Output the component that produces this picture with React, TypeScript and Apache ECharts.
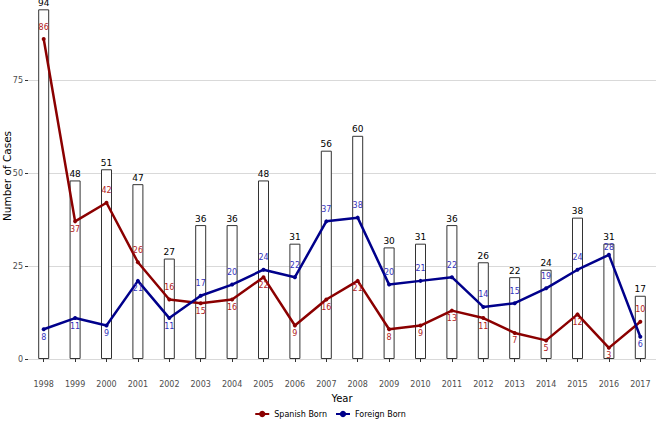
import React, { useEffect, useRef } from "react";
import * as echarts from "echarts";

const years = ["1998","1999","2000","2001","2002","2003","2004","2005","2006","2007","2008","2009","2010","2011","2012","2013","2014","2015","2016","2017"];
const totalCases = [94,48,51,47,27,36,36,48,31,56,60,30,31,36,26,22,24,38,31,17];
const spanishBorn = [86,37,42,26,16,15,16,22,9,16,21,8,9,13,11,7,5,12,3,10];
const foreignBorn = [8,11,9,21,11,17,20,24,22,37,38,20,21,22,14,15,19,24,28,6];

const FONT = "DejaVu Sans";

function labelPos(i: number, isSpanish: boolean) {
  const aboveSpanish = [0, 2, 3, 4, 19];
  const belowForeign = [0, 1, 2, 3, 4, 19];
  if (isSpanish) return aboveSpanish.includes(i) ? "top" : "bottom";
  return belowForeign.includes(i) ? "bottom" : "top";
}

export default function App() {
  const ref = useRef<HTMLDivElement>(null);
  useEffect(() => {
    if (!ref.current) return;
    const chart = echarts.init(ref.current, null, { renderer: "svg" });
    const mkData = (vals: number[], sp: boolean, color: string) =>
      vals.map((v, i) => {
        const pos = labelPos(i, sp);
        const nearTop = totalCases[i] - v < 5;
        return {
          value: v,
          label: {
            show: true,
            position: pos,
            distance: pos === "top" ? (nearTop ? 1 : 6) : 2,
            color,
            fontSize: 8,
            fontFamily: FONT,
          },
        };
      });
    chart.setOption({
      animation: false,
      textStyle: { fontFamily: FONT },
      grid: { left: 28, right: 4, top: -13, bottom: 66, containLabel: false, outerBoundsMode: "none" },
      graphic: [
        {
          type: "text",
          x: 7,
          y: 176,
          rotation: Math.PI / 2,
          style: {
            text: "Number of Cases",
            fill: "#000",
            font: `10.5px "${FONT}"`,
            align: "center",
            verticalAlign: "middle",
          },
        },
      ],
      xAxis: {
        type: "category",
        data: years,
        offset: 17,
        axisLine: { show: false },
        axisTick: { show: true, length: 3, alignWithLabel: true, lineStyle: { color: "#333" } },
        axisLabel: { color: "#4d4d4d", fontSize: 8, margin: 4, fontFamily: FONT, interval: 0 },
        name: "Year",
        nameLocation: "middle",
        nameGap: 17,
        nameTextStyle: { color: "#000", fontSize: 10, fontFamily: FONT },
      },
      yAxis: {
        type: "value",
        min: 0,
        max: 100,
        interval: 25,
        axisLine: { show: false },
        axisTick: { show: true, length: 3, lineStyle: { color: "#333" } },
        axisLabel: {
          color: "#4d4d4d",
          fontSize: 8,
          margin: 5,
          fontFamily: FONT,
          formatter: (v: number) => (v > 75 ? "" : String(v)),
        },
        splitLine: { show: true, lineStyle: { color: "#d9d9d9", width: 1 } },
      },
      legend: {
        bottom: 2,
        left: "center",
        itemWidth: 14,
        itemHeight: 8,
        itemGap: 8,
        textStyle: { fontSize: 8, color: "#000", fontFamily: FONT },
        data: ["Spanish Born", "Foreign Born"],
      },
      series: [
        {
          name: "Total",
          type: "bar",
          data: totalCases,
          barWidth: 11,
          itemStyle: { color: "#ffffff", borderColor: "#333333", borderWidth: 1 },
          label: { show: true, position: "top", distance: 2, color: "#000", fontSize: 9, fontFamily: FONT },
          z: 1,
        },
        {
          name: "Spanish Born",
          type: "line",
          data: mkData(spanishBorn, true, "#b22222"),
          color: "#8b0000",
          lineStyle: { color: "#8b0000", width: 2.5 },
          itemStyle: { color: "#8b0000" },
          symbol: "circle",
          symbolSize: 4,
          z: 3,
        },
        {
          name: "Foreign Born",
          type: "line",
          data: mkData(foreignBorn, false, "#3333bb"),
          color: "#00008b",
          lineStyle: { color: "#00008b", width: 2.5 },
          itemStyle: { color: "#00008b" },
          symbol: "circle",
          symbolSize: 4,
          z: 3,
        },
      ],
    });
    return () => chart.dispose();
  }, []);
  return <div ref={ref} style={{ width: 660, height: 425, position: "absolute", left: 0, top: 0 }} />;
}
